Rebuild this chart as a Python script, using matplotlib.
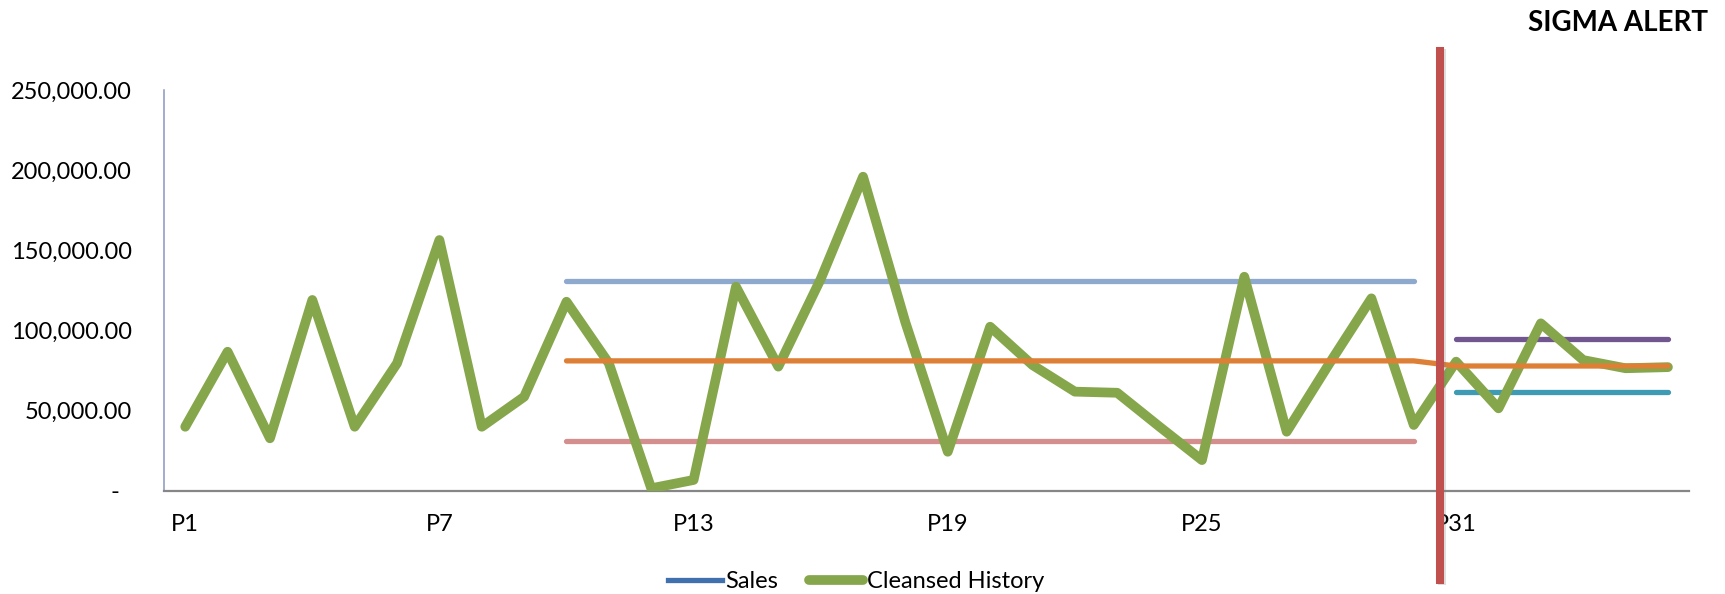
import numpy as np
import matplotlib
matplotlib.use('Agg')
import matplotlib.pyplot as plt
import matplotlib.patheffects as pe
from matplotlib.ticker import FuncFormatter

plt.rcParams['font.family'] = ['Lato', 'DejaVu Sans']

periods = ['P' + str(i) for i in range(1, 37)]

history = [39900, 86700, 32700, 119000, 39900, 79500, 156400, 39900, 58600, 117900,
           79500, 1500, 6700, 127300, 77400, 132000, 195900, 105000, 24300, 102300,
           78400, 61800, 61100, 39900, 19100, 133500, 36800, 79000, 120000, 41000,
           80500, 51400, 104400, 81500, 76400, 77100]
sales = list(history)

# control limits over the history window P10..P30
ucl = 130800
mean = 81000
lcl = 31200
hist_start, hist_end = 9, 29

# forecast window P31..P36
fc_mean = [77800, 77800, 77800, 77800, 77800, 77800]
fc_upper = 94400
fc_lower = 61500
fc_start, fc_end = 30, 35

alert_pos = 29.63

x = np.arange(len(periods))

fig = plt.figure(figsize=(17.25, 5.94), dpi=100)
ax = fig.add_axes([0.0951, 0.1739, 0.8841, 0.6746])

ax.plot(x, sales, color='#4170AE', lw=3.8, zorder=1, label='Sales')
ax.plot(x, history, color='#86A64B', lw=7, solid_joinstyle='round',
        solid_capstyle='round', zorder=3, label='Cleansed History')

xs = x[hist_start:hist_end + 1]
ax.plot(xs, [ucl] * len(xs), color='#8EA9CE', lw=3.8, solid_capstyle='round', zorder=2)
ax.plot(xs, [lcl] * len(xs), color='#D48E8D', lw=3.8, solid_capstyle='round', zorder=2)
# mean runs on into the forecast mean
xm = x[hist_start:fc_end + 1]
ym = [mean] * len(xs) + fc_mean
ax.plot(xm, ym, color='#DE7F36', lw=3.8, solid_capstyle='round', zorder=4)

xf = x[fc_start:fc_end + 1]
ax.plot(xf, [fc_upper] * len(xf), color='#72568F', lw=3.8, solid_capstyle='round', zorder=2)
ax.plot(xf, [fc_lower] * len(xf), color='#3F9AB4', lw=3.8, solid_capstyle='round', zorder=2)

# alert divider, runs past the plot area
ax.axvline(alert_pos, ymin=-0.223, ymax=1.097, color='#C0504D', lw=5.8, clip_on=False, zorder=5,
           path_effects=[pe.SimpleLineShadow(offset=(0.8, -1), shadow_color='gray', alpha=0.25),
                         pe.Normal()])

ax.set_xlim(-0.5, 35.5)
ax.set_ylim(0, 250000)
ax.set_xticks(x[::6])
ax.set_xticklabels(periods[::6])
ax.set_yticks([0, 50000, 100000, 150000, 200000, 250000])
ax.yaxis.set_major_formatter(FuncFormatter(lambda v, p: '-  ' if v == 0 else '{:,.2f}'.format(v)))
ax.tick_params(axis='both', length=0, labelsize=17, colors='black')
ax.tick_params(axis='y', pad=23)
ax.tick_params(axis='x', pad=17)

for s in ['top', 'right']:
    ax.spines[s].set_visible(False)
ax.spines['left'].set_color('#8C96C0')
ax.spines['left'].set_linewidth(1.1)
ax.spines['bottom'].set_color('#868686')
ax.spines['bottom'].set_linewidth(1.6)

fig.text(0.990, 0.961, 'SIGMA ALERT', ha='right', va='center', fontsize=20, fontweight='bold')

fig.legend(loc='center', bbox_to_anchor=(856 / 1725, 1 - 582 / 594), ncol=2, frameon=False,
           fontsize=17, handlelength=2.3, handletextpad=0.15, columnspacing=1.3)

fig.savefig('out.png', dpi=100)
